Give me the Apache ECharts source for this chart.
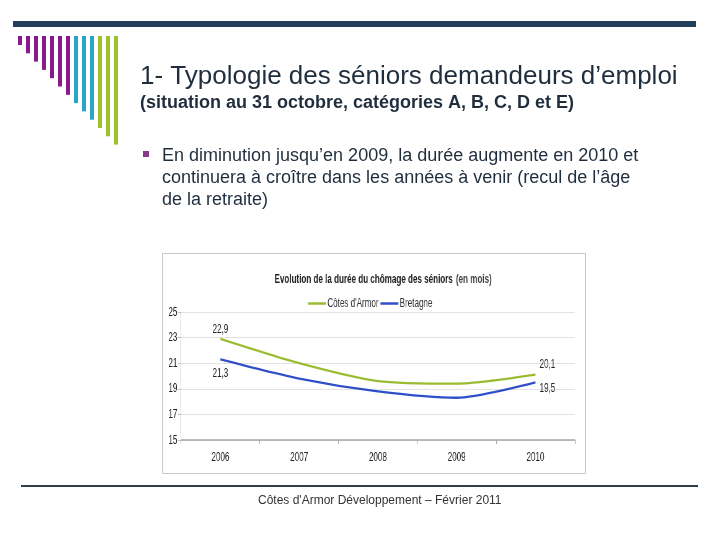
<!DOCTYPE html>
<html>
<head>
<meta charset="utf-8">
<script src="https://cdn.jsdelivr.net/npm/echarts@6/dist/echarts.min.js"></script>
<style>
html,body{margin:0;padding:0;background:#fff;}
#slide{position:relative;width:720px;height:540px;}
#c{position:absolute;left:0;top:0;width:720px;height:540px;}
#chart{position:absolute;left:162px;top:253px;height:220px;transform-origin:0 0;}
</style>
</head>
<body>
<div id="slide">
<div id="c"></div>
<div id="chart"></div>
</div>
<script>
var years = ['2006', '2007', '2008', '2009', '2010'];
var cotesArmor = [22.9, 21.0, 19.6, 19.4, 20.1];
var bretagne = [21.3, 19.8, 18.8, 18.3, 19.5];
var seriesNames = ["Côtes d'Armor", 'Bretagne'];
var yTicks = { min: 15, max: 25, interval: 2 };

var sans = "'Liberation Sans', Arial, sans-serif";
var textDark = '#1f2d3d';

// ---------- slide template (decoration + texts) ----------
var stripeColors = ['#8a1a8c','#8a1a8c','#8a1a8c','#8a1a8c','#8a1a8c','#8a1a8c','#8a1a8c',
                    '#2aa5c6','#2aa5c6','#2aa5c6','#9dc32c','#9dc32c','#9dc32c'];
var graphics = [];
graphics.push({type:'rect', shape:{x:13, y:21, width:683, height:6}, style:{fill:'#243f5c'}});
stripeColors.forEach(function(col, i){
  graphics.push({type:'rect', shape:{x:18 + 8*i, y:36, width:4, height:9 + 8.3*i}, style:{fill:col}});
});
graphics.push({type:'text', left:140, top:64, style:{text:'1- Typologie des séniors demandeurs d’emploi', font:'26px ' + sans, fill:textDark}});
graphics.push({type:'text', left:140, top:94, style:{text:'(situation au 31 octobre, catégories A, B, C, D et E)', font:'bold 18px ' + sans, fill:textDark}});
graphics.push({type:'rect', shape:{x:143, y:151, width:6, height:6}, style:{fill:'#8a3a8a'}});
graphics.push({type:'text', left:162, top:145, style:{text:'En diminution jusqu’en 2009, la durée augmente en 2010 et\ncontinuera à croître dans les années à venir (recul de l’âge\nde la retraite)', font:'18px ' + sans, fill:textDark, lineHeight:22}});
graphics.push({type:'rect', shape:{x:162.5, y:253.5, width:423, height:220}, style:{fill:'#fff', stroke:'#c8c8c8', lineWidth:1}});
graphics.push({type:'rect', shape:{x:21, y:485, width:677, height:2}, style:{fill:'#333f48'}});
graphics.push({type:'text', left:258, top:495, style:{text:'Côtes d\'Armor Développement – Février 2011', font:'12px ' + sans, fill:'#333'}});

var slide = echarts.init(document.getElementById('c'));
slide.setOption({animation:false, graphic: graphics});

// ---------- chart (picture inserted horizontally squeezed) ----------
var S = 0.62;               // horizontal squeeze of the inserted chart picture
var frameW = 423;
var el = document.getElementById('chart');
el.style.width = (frameW / S) + 'px';
el.style.transform = 'scaleX(' + S + ')';

function fmt(v){ return String(v).replace('.', ','); }
function buildData(values, firstOffset, lastOffset){
  return values.map(function(v, i){
    var item = {value: v};
    if (i === 0) item.label = {show:true, position:'inside', offset:firstOffset};
    else if (i === values.length - 1) item.label = {show:true, position:'inside', offset:lastOffset};
    else item.label = {show:false};
    return item;
  });
}
var labelBase = {show:false, color:'#222', fontFamily:sans, fontSize:13,
                 formatter:function(p){return fmt(p.value);}};

var chart = echarts.init(el);
chart.setOption({
  animation:false,
  title: {
    text: '{b|Evolution de la durée du chômage des séniors} {n|(en mois)}',
    left: 218 / S, top: 12, textAlign:'center',
    textStyle: {
      rich: {
        b: {fontFamily:sans, fontWeight:'bold', fontSize:13, color:'#222'},
        n: {fontFamily:sans, fontSize:13, color:'#444'}
      }
    }
  },
  legend: {
    data: seriesNames,
    left: 143 / S, top: 39,
    icon: 'rect', itemWidth: 29, itemHeight: 2.5, itemGap: 3,
    textStyle: {fontFamily:sans, fontSize:13, color:'#333', padding:[0,0,0,-3]}
  },
  grid: {left: 19 / S, right: 10 / S, top: 59, bottom: 33},
  xAxis: {
    type:'category', data: years, boundaryGap:true,
    axisLine:{lineStyle:{color:'#a8a8a8', width:1.5}},
    axisTick:{show:true, length:4, lineStyle:{color:'#a8a8a8'}},
    axisLabel:{color:'#222', fontFamily:sans, fontSize:13, margin:11}
  },
  yAxis: {
    type:'value', min:yTicks.min, max:yTicks.max, interval:yTicks.interval,
    axisLine:{show:true, lineStyle:{color:'#c0c0c0'}},
    axisTick:{show:true, length:5, lineStyle:{color:'#c0c0c0'}},
    splitLine:{lineStyle:{color:'#e2e2e2'}},
    axisLabel:{color:'#222', fontFamily:sans, fontSize:13, margin:6}
  },
  series: [
    {
      name: seriesNames[0], type:'line', smooth:0.25,
      symbol:'circle', symbolSize:0.01, showSymbol:true,
      lineStyle:{color:'#9bbb30', width:2.3}, itemStyle:{color:'#9bbb30'},
      label: labelBase,
      data: buildData(cotesArmor, [0, -9], [12 / S, -10])
    },
    {
      name: seriesNames[1], type:'line', smooth:0.25,
      symbol:'circle', symbolSize:0.01, showSymbol:true,
      lineStyle:{color:'#2f4fc8', width:2.3}, itemStyle:{color:'#2f4fc8'},
      label: labelBase,
      data: buildData(bretagne, [0, 14], [12 / S, 6])
    }
  ]
});
</script>
</body>
</html>
